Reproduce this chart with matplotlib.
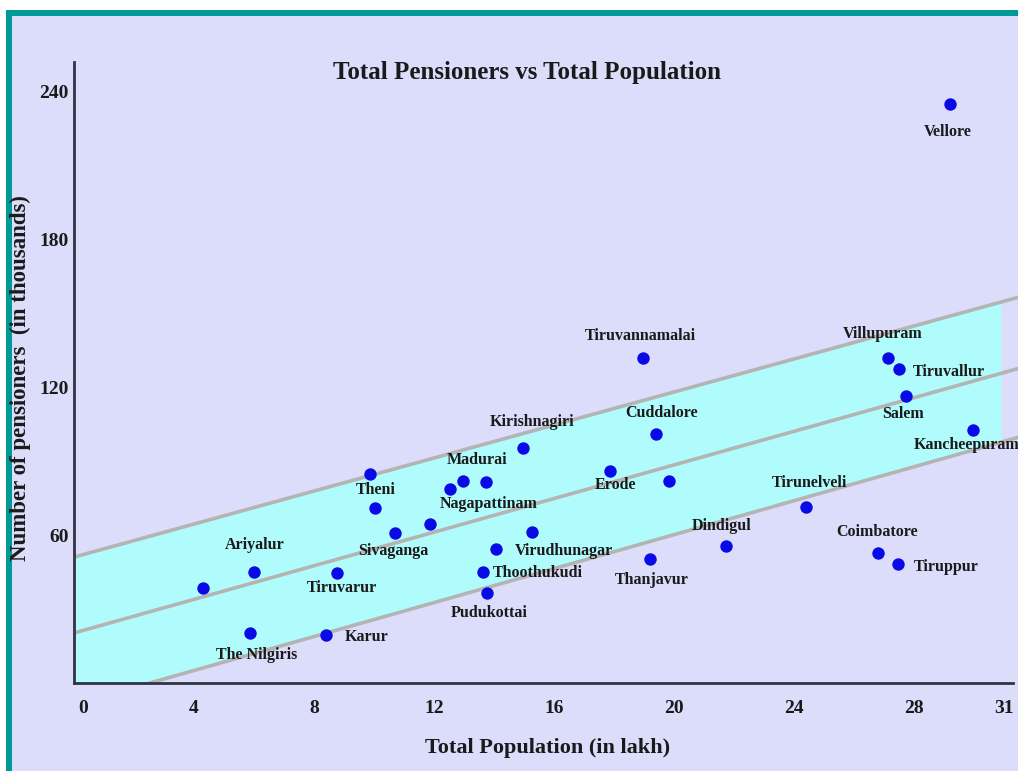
import matplotlib
matplotlib.use("Agg")
import matplotlib.pyplot as plt
from matplotlib.patches import Rectangle
from matplotlib.transforms import ScaledTranslation
import numpy as np

# District data: total population (lakh) and number of pensioners (thousands)
districts = [
    "Vellore", "Tiruvannamalai", "Villupuram", "Tiruvallur", "Salem",
    "Kancheepuram", "Cuddalore", "Kirishnagiri", "Erode", None,
    "Tirunelveli", "Dindigul", "Thanjavur", "Coimbatore", "Tiruppur",
    "Theni", None, "Sivaganga", None, None,
    "Madurai", "Nagapattinam", None, "Virudhunagar", "Thoothukudi",
    "Pudukottai", "Ariyalur", None, "Tiruvarur", "The Nilgiris", "Karur",
]
population = [
    29.2, 18.97, 27.14, 27.51, 27.73,
    29.98, 19.4, 14.97, 17.87, 19.82,
    24.4, 21.74, 19.2, 26.81, 27.48,
    9.87, 10.03, 10.7, 11.88, 12.53,
    12.96, 13.72, 15.26, 14.07, 13.62,
    13.78, 6.0, 4.31, 8.78, 5.87, 8.39,
]
pensioners = [
    235.0, 132.0, 132.0, 127.6, 116.5,
    102.6, 101.2, 95.4, 85.9, 82.0,
    71.6, 55.4, 50.3, 52.6, 48.1,
    85.0, 70.9, 60.7, 64.7, 78.9,
    82.0, 81.4, 61.3, 54.3, 45.1,
    36.6, 45.1, 38.4, 44.5, 20.4, 19.5,
]

# Trend line with its upper and lower band (values at the two ends)
band_x = [0.0, 31.5]
band_upper = [51.1, 156.6]
band_center = [20.3, 127.7]
band_lower = [-8.7, 99.8]
band_fill_end = 30.9

x_ticks = [0, 4, 8, 12, 16, 20, 24, 28, 31]
y_ticks = [60, 120, 180, 240]

# Label placement: (dx, dy) in pixels, horizontal alignment
label_place = {
    "Vellore": (-2, -28, "center"),
    "Tiruvannamalai": (-3, 22, "center"),
    "Villupuram": (-6, 24, "center"),
    "Tiruvallur": (14, -3, "left"),
    "Salem": (-3, -18, "center"),
    "Kancheepuram": (-7, -15, "center"),
    "Cuddalore": (6, 21, "center"),
    "Kirishnagiri": (9, 26, "center"),
    "Erode": (5, -14, "center"),
    "Tirunelveli": (4, 24, "center"),
    "Dindigul": (-5, 20, "center"),
    "Thanjavur": (2, -21, "center"),
    "Coimbatore": (-1, 21, "center"),
    "Tiruppur": (15, -3, "left"),
    "Theni": (6, -16, "center"),
    "Sivaganga": (-2, -18, "center"),
    "Madurai": (14, 21, "center"),
    "Nagapattinam": (3, -22, "center"),
    "Virudhunagar": (19, -2, "left"),
    "Thoothukudi": (10, -1, "left"),
    "Pudukottai": (2, -20, "center"),
    "Ariyalur": (1, 27, "center"),
    "Tiruvarur": (5, -15, "center"),
    "The Nilgiris": (7, -22, "center"),
    "Karur": (19, -2, "left"),
}

BG = "#dcdcfb"
TEAL = "#009a96"
FILL = "#b0fcfc"
LINE = "#b4b4b4"
DOT = "#0a0ae6"
TXT = "#1a1a1a"
SERIF = ["Liberation Serif", "DejaVu Serif"]

W, H = 1018, 771
fig = plt.figure(figsize=(W / 100, H / 100), dpi=100, facecolor=BG)

# Frame: white margin with a teal edge along the top and left
def px_rect(x0, y0, x1, y1, color):
    fig.patches.append(Rectangle((x0 / W, 1 - y1 / H), (x1 - x0) / W, (y1 - y0) / H,
                                 transform=fig.transFigure, facecolor=color,
                                 edgecolor="none", zorder=0))

px_rect(0, 0, W, 10, "white")
px_rect(0, 0, 6, H, "white")
px_rect(6, 10, W, 16, TEAL)
px_rect(6, 10, 12, H, TEAL)

ax = fig.add_axes([74 / W, 88 / H, (1019 - 74) / W, (709 - 88) / H])
ax.set_facecolor(BG)
ax.set_xlim(0, 31.5)
ax.set_ylim(0, 252)

# Shaded band and the three straight lines
fx = np.array([0.0, band_fill_end])
ax.fill_between(fx, np.interp(fx, band_x, band_lower), np.interp(fx, band_x, band_upper),
                color=FILL, lw=0, zorder=1)
for ys in (band_upper, band_center, band_lower):
    ax.plot(band_x, ys, color=LINE, lw=2.6, solid_capstyle="butt", zorder=2)

ax.scatter(population, pensioners, s=80, color=DOT, zorder=4, linewidths=0)

for name, x, y in zip(districts, population, pensioners):
    if name is None:
        continue
    dx, dy, ha = label_place[name]
    ax.annotate(name, (x, y), xytext=(dx, dy), textcoords="offset pixels",
                ha=ha, va="center", fontsize=11.5, fontweight="bold",
                family=SERIF, color=TXT, zorder=5, annotation_clip=False)

for side in ("top", "right"):
    ax.spines[side].set_visible(False)
for side in ("left", "bottom"):
    ax.spines[side].set_color("#333344")
    ax.spines[side].set_linewidth(2)
ax.spines["bottom"].set_bounds(0, 31.3)

ax.set_xticks(x_ticks)
ax.set_xticklabels([str(t) for t in x_ticks])
ax.set_yticks(y_ticks)
ax.set_yticklabels([str(t) for t in y_ticks])
ax.tick_params(length=0, labelsize=14, labelcolor=TXT)
ax.tick_params(axis="x", pad=12)
ax.tick_params(axis="y", pad=4)
for lab in ax.get_xticklabels() + ax.get_yticklabels():
    lab.set_family(SERIF)
    lab.set_fontweight("bold")
# Nudge the "0" label clear of the y axis
zero_lab = ax.xaxis.get_major_ticks()[0].label1
zero_lab.set_transform(zero_lab.get_transform() + ScaledTranslation(0.09, 0, fig.dpi_scale_trans))

fig.text(527 / W, 1 - 73 / H, "Total Pensioners vs Total Population", ha="center", va="center",
         fontsize=18, fontweight="bold", family=SERIF, color=TXT)
fig.text(548 / W, 1 - 748 / H, "Total Population (in lakh)", ha="center", va="center",
         fontsize=16, fontweight="bold", family=SERIF, color=TXT)
fig.text(20 / W, 1 - 378 / H, "Number of pensioners  (in thousands)", ha="center", va="center",
         rotation=90, fontsize=16.5, fontweight="bold", family=SERIF, color=TXT)

fig.savefig("out.png", dpi=100, facecolor=BG)
